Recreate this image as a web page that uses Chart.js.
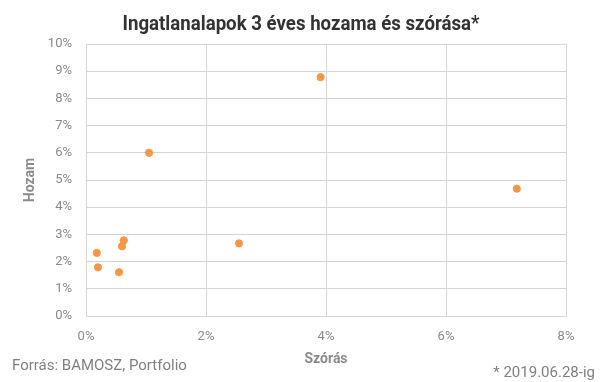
<!DOCTYPE html>
<html>
<head>
<meta charset="utf-8">
<script src="https://cdn.jsdelivr.net/npm/chart.js@4/dist/chart.umd.min.js"></script>
<style>
html,body{margin:0;padding:0;background:#fff;}
#wrap{width:607px;height:382px;}
</style>
</head>
<body>
<div id="wrap"><canvas id="c" width="607" height="382"></canvas></div>
<script>
const titleText = "Ingatlanalapok 3 éves hozama és szórása*";
const xTitle = "Szórás";
const yTitle = "Hozam";
const sourceText = "Forrás: BAMOSZ, Portfolio";
const noteText = "* 2019.06.28-ig";
// szórás (%) and hozam (%)
const stdDev = [0.18, 0.20, 0.55, 0.60, 0.63, 1.05, 2.55, 3.91, 7.18];
const returns = [2.32, 1.79, 1.61, 2.56, 2.78, 6.00, 2.67, 8.78, 4.68];
const xTicksMax = 8, xStep = 2;
const yTicksMax = 10, yStep = 1;

const points = stdDev.map((x, i) => ({x: x, y: returns[i]}));
const gray = '#8a8a8a';
const gridColor = '#d4d4d4';

const footerPlugin = {
  id: 'footer',
  afterDraw(chart) {
    const ctx = chart.ctx;
    ctx.save();
    ctx.fillStyle = '#808080';
    ctx.font = '15px Roboto';
    ctx.textBaseline = 'alphabetic';
    ctx.textAlign = 'left';
    ctx.fillText(sourceText, 12, 370);
    ctx.textAlign = 'right';
    ctx.fillText(noteText, 595, 377);
    // title
    ctx.fillStyle = '#333333';
    ctx.font = 'bold 20px Roboto';
    ctx.textAlign = 'center';
    ctx.translate(301, 30);
    const w = ctx.measureText(titleText).width;
    ctx.scale(357 / w, 1);
    ctx.fillText(titleText, 0, 0);
    ctx.restore();
  }
};

new Chart(document.getElementById('c'), {
  type: 'scatter',
  data: {
    datasets: [{
      data: points,
      backgroundColor: 'rgb(247,150,70)',
      borderColor: 'rgb(247,150,70)',
      pointRadius: 3.6,
      pointHoverRadius: 3.6
    }]
  },
  options: {
    responsive: false,
    animation: false,
    events: [],
    layout: {padding: {top: 44, right: 41, bottom: 14, left: 22}},
    plugins: {
      legend: {display: false},
      tooltip: {enabled: false},
      title: {display: false}
    },
    scales: {
      x: {
        type: 'linear',
        min: 0, max: xTicksMax,
        border: {color: gridColor},
        grid: {color: gridColor, drawTicks: false},
        ticks: {stepSize: xStep, padding: 13, color: gray, font: {family: 'Roboto', size: 13},
          callback: v => v + '%'},
        title: {display: true, text: xTitle, color: gray, font: {family: 'Roboto', size: 14, weight: 'bold'}, padding: {top: 0, bottom: 0}},
        afterFit: s => { s.height = 52; }
      },
      y: {
        type: 'linear',
        min: 0, max: yTicksMax,
        border: {color: gridColor},
        grid: {color: gridColor, drawTicks: false},
        ticks: {stepSize: yStep, padding: 14, color: gray, font: {family: 'Roboto', size: 13},
          callback: v => v + '%'},
        title: {display: true, text: yTitle, color: gray, font: {family: 'Roboto', size: 14, weight: 'bold'}, padding: {top: 0, bottom: 0}},
        afterFit: s => { s.width = 64; }
      }
    }
  },
  plugins: [footerPlugin]
});
</script>
</body>
</html>
